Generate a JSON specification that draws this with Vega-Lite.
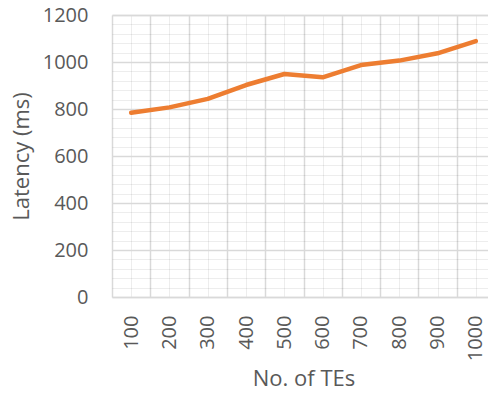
{
  "$schema": "https://vega.github.io/schema/vega-lite/v6.json",
  "autosize": {"type": "none"},
  "width": 376,
  "height": 282,
  "padding": {"left": 112, "top": 15, "right": 0, "bottom": 106},
  "background": "white",
  "config": {
    "view": {"stroke": null},
    "font": "Open Sans",
    "axis": {"labelColor": "#595959", "titleColor": "#595959", "labelFont": "Open Sans", "titleFont": "Open Sans", "titleFontWeight": "normal"}
  },
  "data": {"values": [
    {"tes": 100, "latency": 784},
    {"tes": 200, "latency": 807},
    {"tes": 300, "latency": 843},
    {"tes": 400, "latency": 902},
    {"tes": 500, "latency": 949},
    {"tes": 600, "latency": 935},
    {"tes": 700, "latency": 987},
    {"tes": 800, "latency": 1006},
    {"tes": 900, "latency": 1037},
    {"tes": 1000, "latency": 1089}
  ]},
  "resolve": {"axis": {"x": "independent", "y": "independent"}},
  "layer": [
    {
      "mark": {"type": "line", "opacity": 0},
      "encoding": {
        "x": {"field": "tes", "type": "quantitative",
          "scale": {"domain": [50, 1031.7], "nice": false, "zero": false},
          "axis": {"orient": "bottom", "values": [100, 200, 300, 400, 500, 600, 700, 800, 900, 1000],
            "grid": true, "gridColor": "black", "gridOpacity": 0.07, "gridWidth": 1,
            "ticks": false, "domain": false, "labels": false, "title": null}},
        "y": {"field": "latency", "type": "quantitative",
          "scale": {"domain": [0, 1200], "nice": false},
          "axis": {"orient": "left", "values": [40, 80, 120, 160, 240, 280, 320, 360, 440, 480, 520, 560, 640, 680, 720, 760, 840, 880, 920, 960, 1040, 1080, 1120, 1160],
            "grid": true, "gridColor": "black", "gridOpacity": 0.07, "gridWidth": 1,
            "ticks": false, "domain": false, "labels": false, "title": null}}
      }
    },
    {
      "mark": {"type": "line", "color": "#ED7D31", "strokeWidth": 4.5, "strokeCap": "round", "strokeJoin": "round"},
      "encoding": {
        "x": {"field": "tes", "type": "quantitative",
          "axis": {"orient": "bottom", "values": [100, 200, 300, 400, 500, 600, 700, 800, 900, 1000], "format": "d",
            "grid": false, "ticks": false, "domain": false,
            "labelAngle": -90, "labelFontSize": 20, "labelPadding": 18, "labelOverlap": false, "labelFlush": false,
            "title": "No. of TEs", "titleFontSize": 22, "titlePadding": 8, "titleX": 191.5}},
        "y": {"field": "latency", "type": "quantitative",
          "axis": {"orient": "left", "values": [0, 200, 400, 600, 800, 1000, 1200], "format": "d",
            "grid": true, "gridColor": "#d9d9d9", "gridWidth": 1.5,
            "ticks": false, "domain": false,
            "labelFontSize": 20, "labelPadding": 24, "labelFlush": false,
            "title": "Latency (ms)", "titleFontSize": 22, "titlePadding": 9}}
      }
    },
    {
      "mark": {"type": "line", "opacity": 0},
      "encoding": {
        "x": {"field": "tes", "type": "quantitative",
          "axis": {"orient": "bottom", "values": [50, 150, 250, 350, 450, 550, 650, 750, 850, 950],
            "grid": true, "gridColor": "#d9d9d9", "gridWidth": 1.5,
            "ticks": false, "domain": false, "labels": false, "title": null}},
        "y": {"field": "latency", "type": "quantitative",
          "axis": {"orient": "left", "values": [0, 1200], "grid": true, "gridColor": "#d9d9d9", "gridWidth": 1.5,
            "ticks": false, "domain": false, "labels": false, "title": null}}
      }
    }
  ]
}
